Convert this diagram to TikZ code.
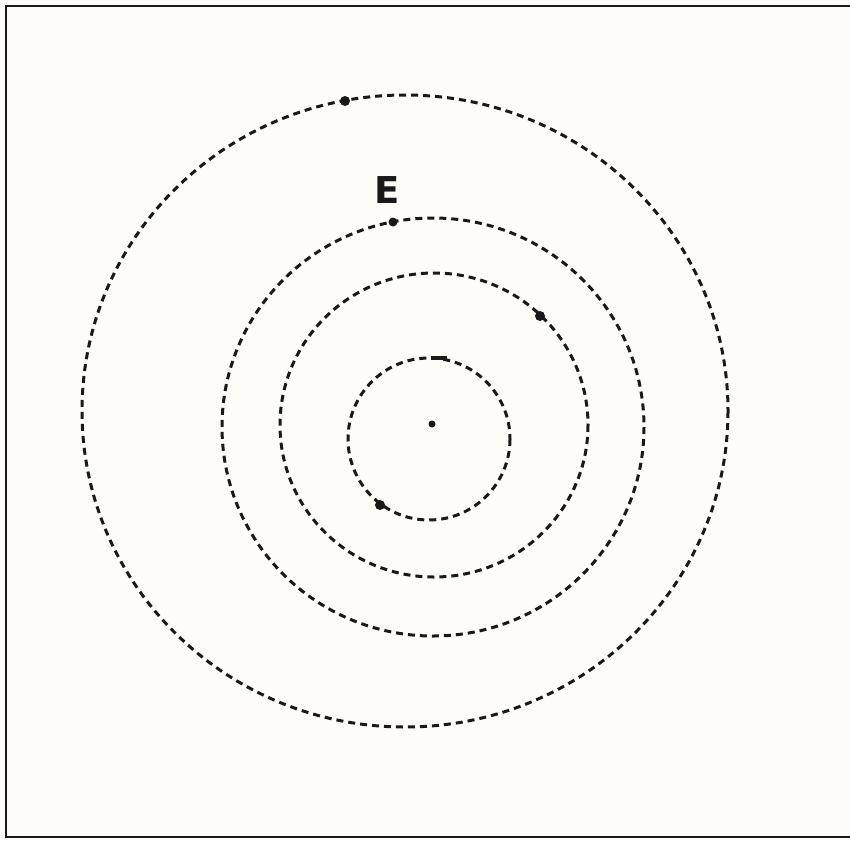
\documentclass[tikz,border=0pt]{standalone}
\usepackage{fontspec}
\setsansfont{DejaVu Sans}
\usepackage{xcolor}
\definecolor{paper}{RGB}{254,252,246}
\definecolor{ink}{RGB}{25,25,25}
\tikzset{
  orbit/.style={draw=ink, line width=3pt, dash pattern=on 7pt off 5pt},
  planet/.style={circle, fill=ink, inner sep=0pt, minimum size=10pt},
  frameline/.style={draw=ink, line width=2.2pt}
}

\begin{document}
\begin{tikzpicture}[x=1pt, y=-1pt]

% ── Page and frame ──────────────────────────────────────────
\fill[paper] (0,0) rectangle (850,841);
\useasboundingbox (0,0) rectangle (850,841);
\draw[frameline] (850,6) -- (6,6) -- (6,837) -- (850,837);

% ── Sun ─────────────────────────────────────────────────────
\coordinate (sun) at (432,424);
\fill[ink] (sun) circle (3.5pt);

% ── Orbits ──────────────────────────────────────────────────
\draw[orbit] (429,439) ellipse [x radius=81, y radius=81];
\draw[orbit] (434,425) ellipse [x radius=154, y radius=152];
\draw[orbit] (433,427) ellipse [x radius=211, y radius=209];
\draw[orbit] (405,411) ellipse [x radius=323, y radius=316];

% ── Planets ─────────────────────────────────────────────────
\node[planet] (p1) at (380,505) {};
\draw[ink, line width=3.5pt] (431,358) -- (447,358);
\node[planet] (p3) at (540,316) {};
\node[planet, minimum size=9pt] (earth) at (393,222) {};
\node[planet] (p4) at (345,101) {};

% ── Label ───────────────────────────────────────────────────
\node[font=\sffamily\bfseries\fontsize{37}{37}\selectfont, text=ink,
      inner sep=0pt] (elab) at (387,190) {E};

\end{tikzpicture}
\end{document}
